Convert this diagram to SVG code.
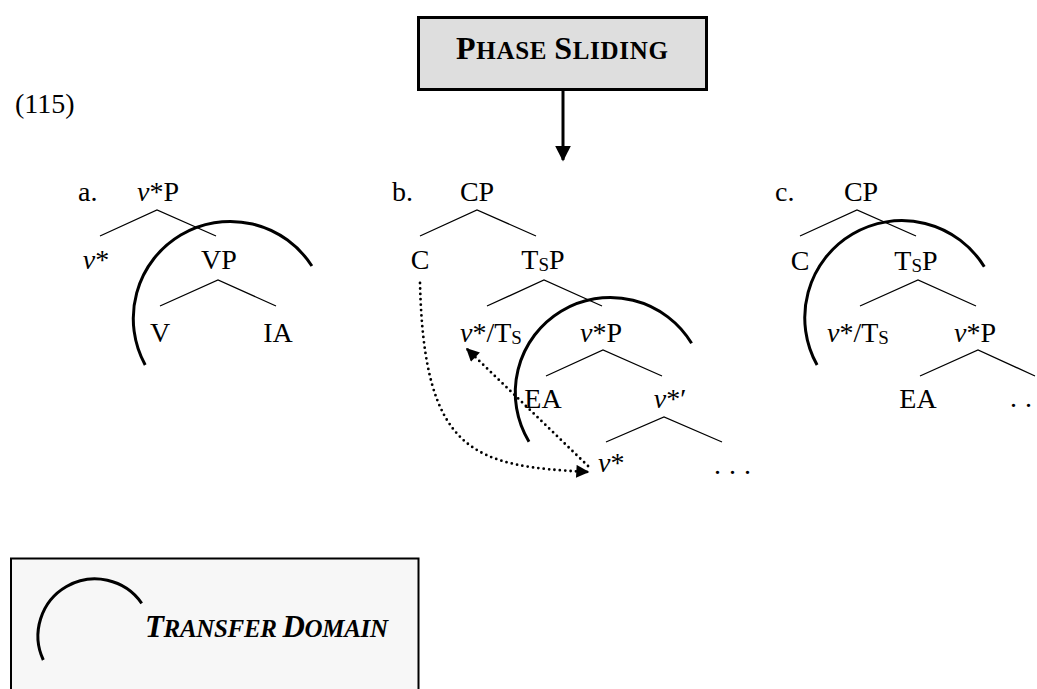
<svg xmlns="http://www.w3.org/2000/svg" width="1037" height="689" viewBox="0 0 1037 689">
<style>
.lbl{font-family:"Liberation Serif","DejaVu Serif",serif;font-size:28px;fill:#000}
.it{font-style:italic}
.sub{font-size:19px}
.edge{stroke:#000;stroke-width:1.3;fill:none}
.arc{stroke:#000;stroke-width:3;fill:none}
.dot{stroke:#000;stroke-width:2.8;stroke-dasharray:0 5.4;stroke-linecap:round;fill:none}
.title{font-family:"Liberation Serif","DejaVu Serif",serif;font-weight:bold;fill:#000}
</style>
<defs>
<marker id="ah" viewBox="0 0 10 10" refX="9" refY="5" markerWidth="16" markerHeight="13" markerUnits="userSpaceOnUse" orient="auto"><path d="M0,0 L10,5 L0,10 z" fill="#000"/></marker>
<marker id="ahBig" viewBox="0 0 10 10" refX="9" refY="5" markerWidth="16" markerHeight="23" markerUnits="userSpaceOnUse" orient="auto"><path d="M0,0 L10,5 L0,10 z" fill="#000"/></marker>
</defs>
<rect width="1037" height="689" fill="#fff"/>

<g id="phase-sliding">
<rect x="418.5" y="17.5" width="288" height="72" fill="#dedede" stroke="#000" stroke-width="3"/>
<text class="title" x="562" y="59" text-anchor="middle" textLength="212"><tspan font-size="32">P</tspan><tspan font-size="25">HASE </tspan><tspan font-size="32">S</tspan><tspan font-size="25">LIDING</tspan></text>
</g>

<g id="ex-number"><text class="lbl" x="15" y="113">(115)</text></g>

<g id="tree-a">
<g id="a-label"><text class="lbl" x="78" y="201">a.</text></g>
<g id="a-vstarP"><text class="lbl" x="158" y="201" text-anchor="middle"><tspan class="it">v</tspan>*P</text></g>
<g id="a-vstar"><text class="lbl" x="96" y="269" text-anchor="middle"><tspan class="it">v</tspan>*</text></g>
<g id="a-VP"><text class="lbl" x="219" y="269" text-anchor="middle">VP</text></g>
<g id="a-V"><text class="lbl" x="160" y="342" text-anchor="middle">V</text></g>
<g id="a-IA"><text class="lbl" x="278" y="342" text-anchor="middle">IA</text></g>
</g>

<g id="tree-b">
<g id="b-label"><text class="lbl" x="392" y="201">b.</text></g>
<g id="b-CP"><text class="lbl" x="477" y="201" text-anchor="middle">CP</text></g>
<g id="b-C"><text class="lbl" x="420" y="269" text-anchor="middle">C</text></g>
<g id="b-TSP"><text class="lbl" x="543" y="269" text-anchor="middle">T<tspan class="sub" dy="2">S</tspan><tspan dy="-2">P</tspan></text></g>
<g id="b-vstarTS"><text class="lbl" x="460" y="342"><tspan class="it">v</tspan>*/T<tspan class="sub" dy="2">S</tspan></text></g>
<g id="b-vstarP"><text class="lbl" x="601" y="342" text-anchor="middle"><tspan class="it">v</tspan>*P</text></g>
<g id="b-EA"><text class="lbl" x="543" y="408" text-anchor="middle">EA</text></g>
<g id="b-vstarbar"><text class="lbl" x="670" y="408" text-anchor="middle"><tspan class="it">v</tspan>*′</text></g>
<g id="b-vstar"><text class="lbl" x="598" y="472"><tspan class="it">v</tspan>*</text></g>
<g id="b-dots"><text class="lbl" x="714" y="474" letter-spacing="0.5">. . .</text></g>
</g>

<g id="tree-c">
<g id="c-label"><text class="lbl" x="775" y="201">c.</text></g>
<g id="c-CP"><text class="lbl" x="861" y="201" text-anchor="middle">CP</text></g>
<g id="c-C"><text class="lbl" x="800" y="270" text-anchor="middle">C</text></g>
<g id="c-TSP"><text class="lbl" x="916" y="270" text-anchor="middle">T<tspan class="sub" dy="2">S</tspan><tspan dy="-2">P</tspan></text></g>
<g id="c-vstarTS"><text class="lbl" x="827" y="342"><tspan class="it">v</tspan>*/T<tspan class="sub" dy="2">S</tspan></text></g>
<g id="c-vstarP"><text class="lbl" x="975" y="342" text-anchor="middle"><tspan class="it">v</tspan>*P</text></g>
<g id="c-EA"><text class="lbl" x="918" y="408" text-anchor="middle">EA</text></g>
<g id="c-dots"><text class="lbl" x="1010" y="407" letter-spacing="0.5">. .</text></g>
</g>

<g id="connectors">
<path class="edge" d="M100,236 L157,210 L216,236"/>
<path class="edge" d="M160,306 L218,280 L276,306"/>
<path class="edge" d="M420,236 L477,210 L536,236"/>
<path class="edge" d="M487,306 L544,280 L602,306"/>
<path class="edge" d="M546,376 L603,350 L662,376"/>
<path class="edge" d="M606,442 L664,417 L722,442"/>
<path class="edge" d="M800,236 L857,210 L916,236"/>
<path class="edge" d="M860,306 L918,280 L976,306"/>
<path class="edge" d="M920,376 L978,350 L1035,376"/>
<path d="M563,90 L563,160" stroke="#000" stroke-width="3" fill="none" marker-end="url(#ahBig)"/>
<path class="dot" d="M420,283 C424,455 475,466 588,472" marker-end="url(#ah)"/>
<path class="dot" d="M588,466 L467,349" marker-end="url(#ah)"/>
</g>

<g id="transfer-domains">
<path class="arc" d="M145.2,365 A97,97 0 0,1 311.9,266"/>
<path class="arc" d="M529,441.7 A95,95 0 1,1 691.6,343.3"/>
<path class="arc" d="M817.1,365 A97,97 0 0,1 984.3,266.7"/>
</g>

<g id="legend">
<rect x="11" y="558.5" width="407.5" height="150" fill="#f7f7f7" stroke="#000" stroke-width="2"/>
<path class="arc" d="M43.3,660 A57,57 0 0,1 141.7,603.3"/>
<text class="title" x="145" y="637" font-style="italic" textLength="243"><tspan font-size="31">T</tspan><tspan font-size="25">RANSFER </tspan><tspan font-size="31">D</tspan><tspan font-size="25">OMAIN</tspan></text>
</g>
</svg>
